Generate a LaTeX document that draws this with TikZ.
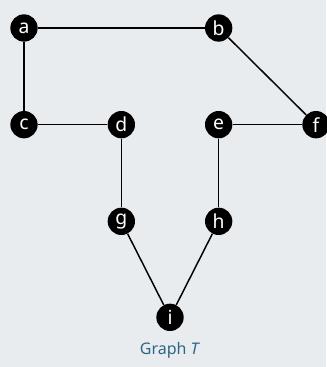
\documentclass[tikz,border=0pt]{standalone}
\usepackage{fontspec}
\setmainfont{Noto Sans}
\usetikzlibrary{positioning}
\usepackage{xcolor}
\definecolor{bgcol}{RGB}{232,236,239}
\definecolor{capcol}{RGB}{44,103,135}

\begin{document}
\begin{tikzpicture}[
  x=0.75pt, y=-0.75pt,
  vert/.style={circle, fill=black, text=white, inner sep=0pt, minimum size=20.5pt, font=\fontsize{14.5}{14.5}\selectfont},
  edge/.style={draw=black, line width=1.1pt},
  on grid, node distance=72.5pt and 73pt
]
\fill[bgcol] (0,0) rectangle (326,367);
\useasboundingbox (0,0) rectangle (326,367);

\node[vert] (a) at (24,28) {a};
\node[vert, below=of a] (c) {c};
\node[vert, right=of c] (d) {d};
\node[vert, right=of d] (e) {e};
\node[vert, right=of e] (f) {f};
\node[vert, above=of e] (b) {b};
\node[vert, below=of d] (g) {g};
\node[vert, below=of e] (h) {h};
\node[vert, below right=72pt and 36.5pt of g] (i) {i};

% caption under the graph
\node[below=25pt of i, font=\fontsize{12}{12}\selectfont, text=capcol] (cap) {Graph \textit{T}};

\draw[edge] (a) -- (b);
\draw[edge] (a) -- (c);
\draw[edge] (b) -- (f);
\draw[edge] (c) -- (d);
\draw[edge] (e) -- (f);
\draw[edge] (d) -- (g);
\draw[edge] (e) -- (h);
\draw[edge] (g) -- (i);
\draw[edge] (h) -- (i);
\end{tikzpicture}
\end{document}
